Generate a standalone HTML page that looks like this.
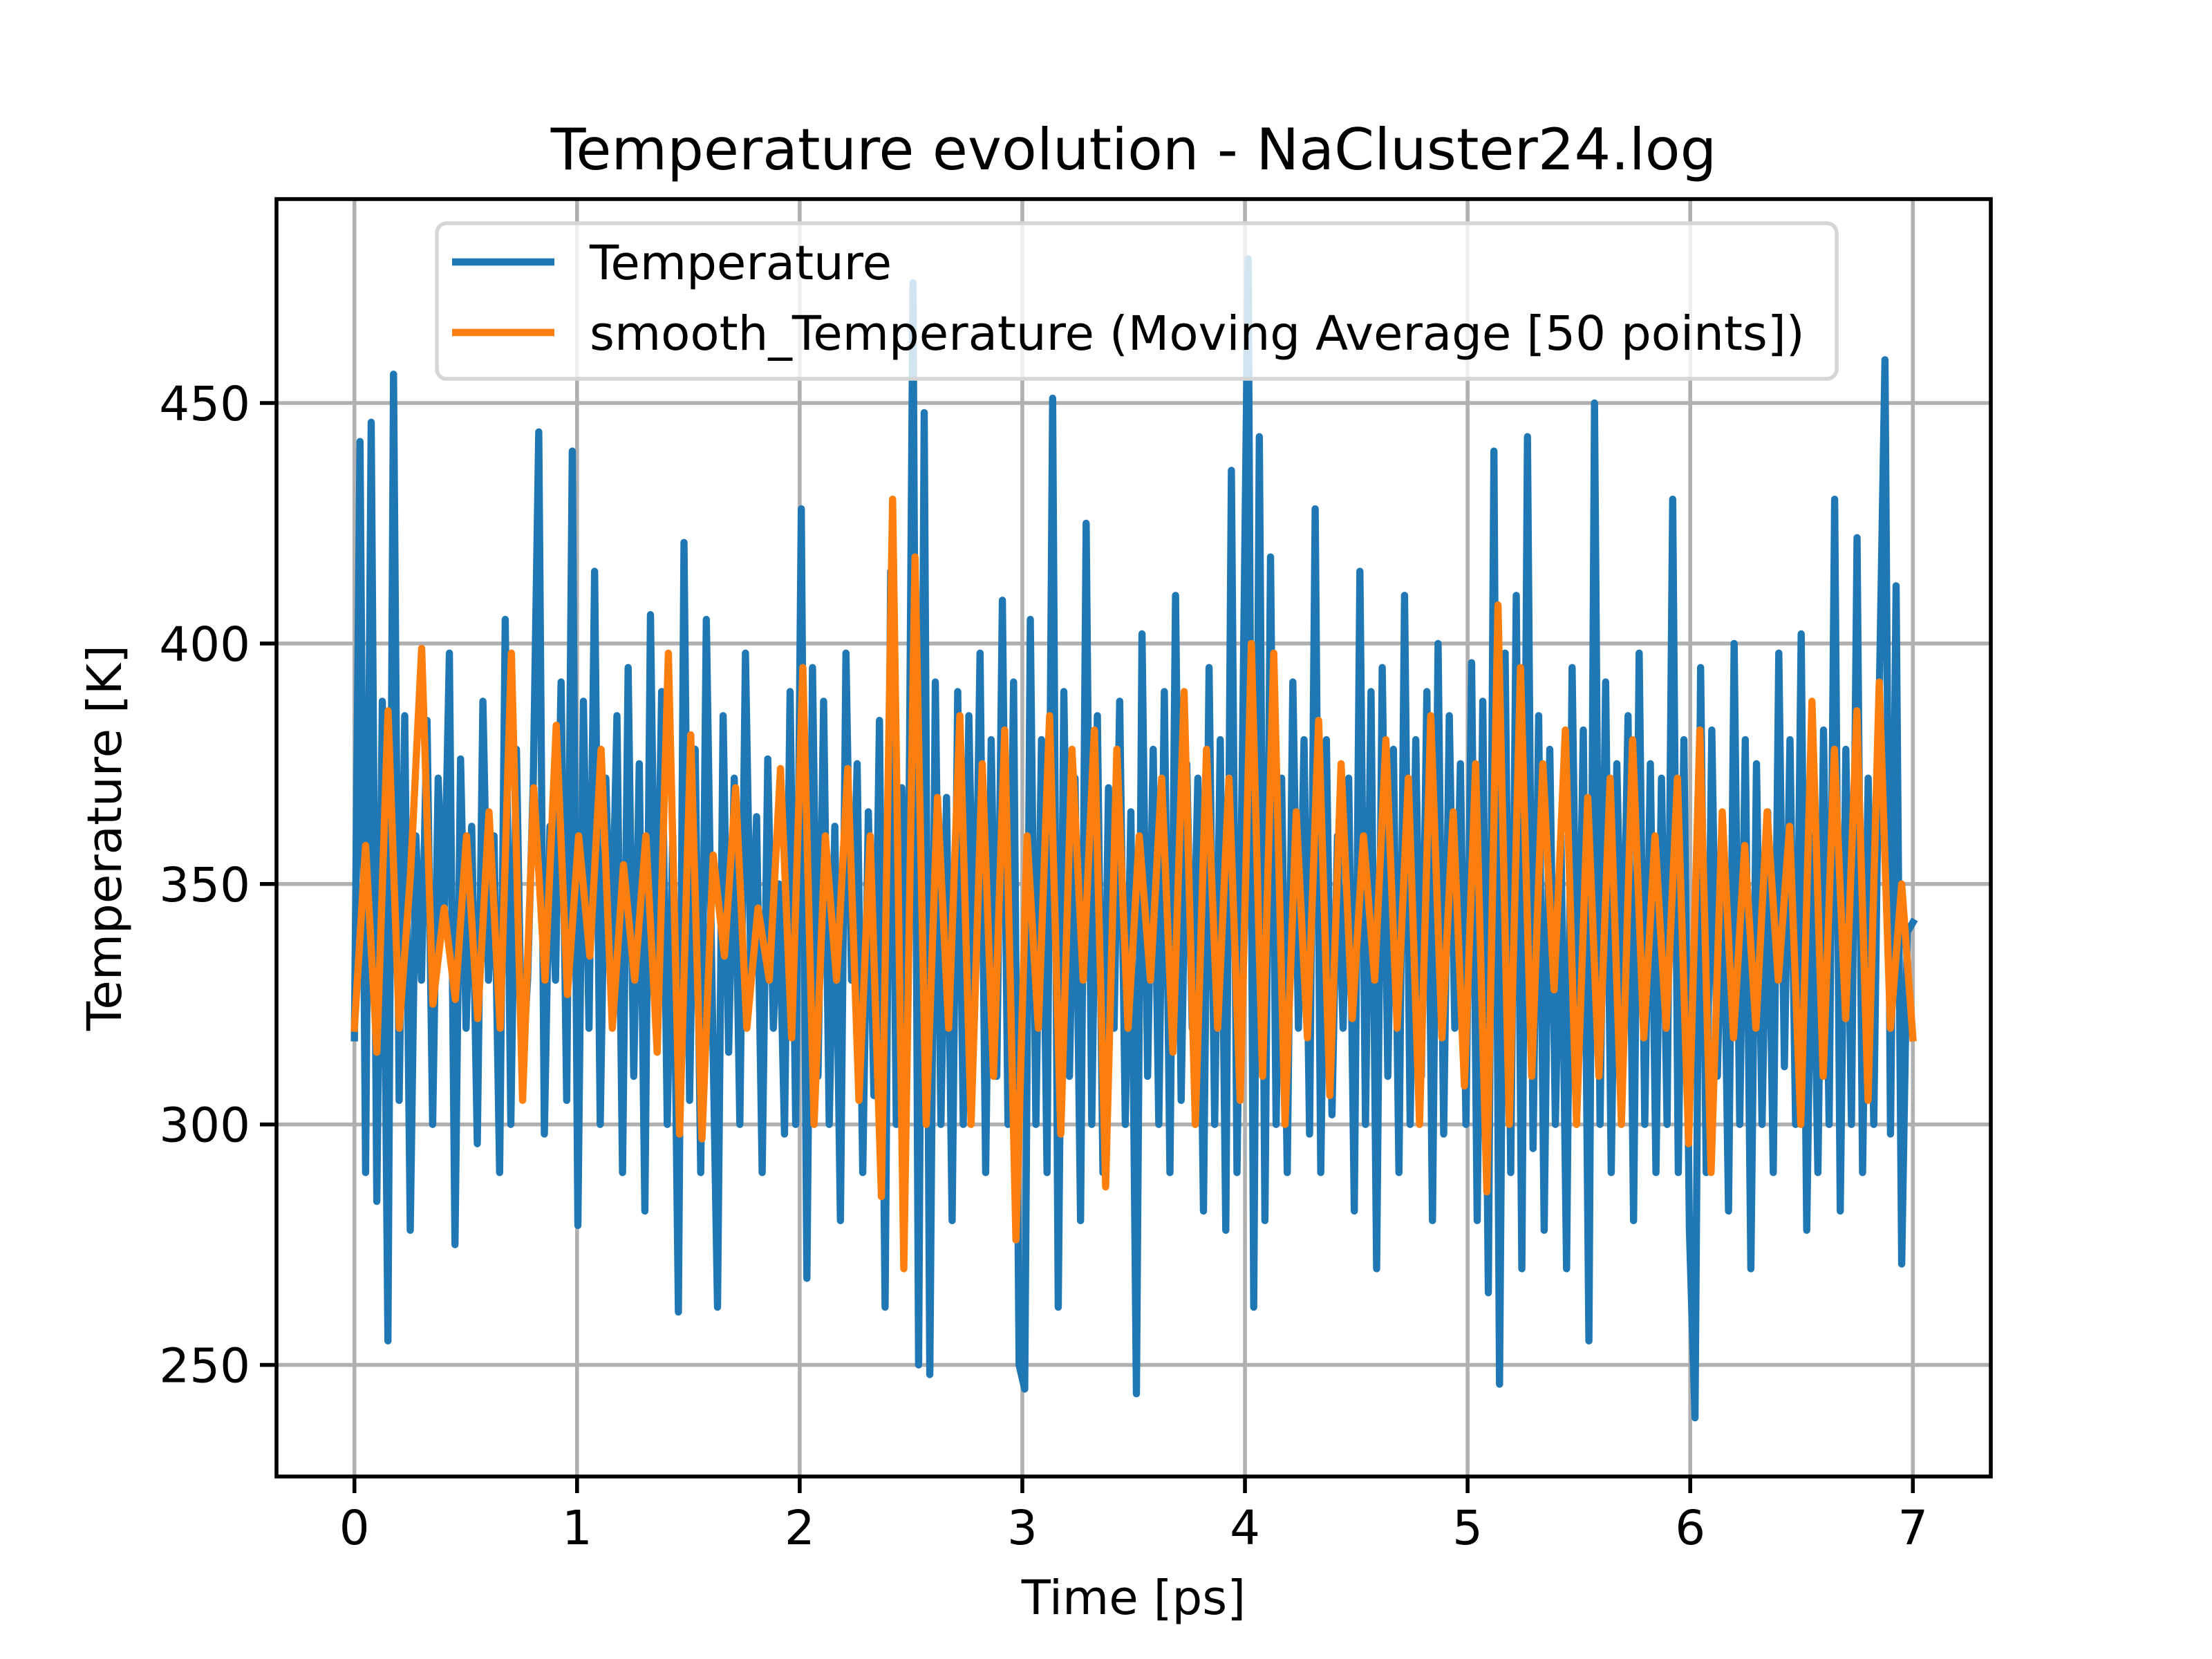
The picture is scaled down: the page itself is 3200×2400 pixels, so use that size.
<!DOCTYPE html>
<html><head><meta charset="utf-8"><style>
html,body{margin:0;padding:0;background:#fff}
svg{display:block}
text{font-family:"DejaVu Sans","Liberation Sans",sans-serif;fill:#000}
</style></head><body>
<svg id="chart" width="3200" height="2400" viewBox="0 0 3200 2400" xmlns="http://www.w3.org/2000/svg">
<rect width="3200" height="2400" fill="#fff"/>
<g id="grid"></g>
<g id="series"></g>
<rect x="400" y="288" width="2480" height="1848" fill="none" stroke="#000" stroke-width="5.6"/>
<g id="ticks"></g>
<text x="1640" y="245" font-size="83" text-anchor="middle">Temperature evolution - NaCluster24.log</text>
<text x="1640" y="2335" font-size="69" text-anchor="middle">Time [ps]</text>
<text x="0" y="0" font-size="69" text-anchor="middle" transform="translate(175,1212) rotate(-90)">Temperature [K]</text>
<g>
<rect x="632" y="323" width="2025" height="225" rx="14" fill="#fff" fill-opacity="0.8" stroke="#d6d6d6" stroke-width="5.6"/>
<line x1="654" y1="379" x2="802" y2="379" stroke="#1f77b4" stroke-width="10.4"/>
<text x="853" y="404" font-size="69">Temperature</text>
<line x1="654" y1="481" x2="802" y2="481" stroke="#ff7f0e" stroke-width="10.4"/>
<text x="853" y="506" font-size="69">smooth_Temperature (Moving Average [50 points])</text>
</g>
</svg>
<script>
const xTicks = [0,1,2,3,4,5,6,7];
const yTicks = [250,300,350,400,450];
const tStart = 0, tEnd = 7;
const temperature = [318,442,290,446,284,388,255,456,305,385,278,360,330,384,300,372,340,398,275,376,320,362,296,388,330,360,290,405,300,378,310,330,370,444,298,362,330,392,305,440,
279,388,320,415,300,372,330,385,290,395,310,375,282,406,320,390,300,360,261,421,305,378,290,405,330,262,385,315,372,300,398,330,364,290,376,320,350,298,390,300,
428,268,395,310,388,300,362,280,398,330,375,290,365,306,384,262,415,300,370,318,475,250,448,248,392,300,368,280,390,300,385,322,398,290,380,310,409,300,392,250,
245,405,300,380,290,451,262,390,310,372,280,425,300,385,290,370,320,388,300,365,244,402,310,378,300,390,290,410,305,375,320,372,282,395,300,380,278,436,290,380,
480,262,443,280,418,300,372,290,392,320,380,298,428,290,380,302,360,320,372,282,415,300,390,270,395,310,378,290,410,300,380,310,390,280,400,298,385,320,375,300,
396,280,388,265,440,246,398,290,410,270,443,295,385,278,378,300,360,270,395,310,382,255,450,300,392,290,375,320,385,280,398,300,375,290,372,300,430,290,380,278,
239,395,290,382,310,360,282,400,300,380,270,375,300,365,290,398,312,380,300,402,278,360,290,382,300,430,282,378,300,422,290,372,300,390,459,298,412,271,340,342];
const smoothTemperature = [320,358,315,386,320,352,399,325,345,326,360,322,365,320,398,305,370,330,383,327,
360,335,378,320,354,330,360,315,398,298,381,297,356,335,370,320,345,330,374,318,
395,300,360,330,374,305,360,285,430,270,418,300,368,320,385,300,375,310,382,276,
360,320,385,298,378,330,382,287,378,320,360,330,372,315,390,300,378,320,372,305,
400,310,398,300,365,318,384,306,375,322,360,330,380,320,372,300,385,318,365,308,
375,286,408,300,395,310,375,328,382,300,368,310,372,300,380,318,360,320,372,296,
382,290,365,318,358,320,365,330,362,300,388,310,378,322,386,305,392,320,350,318];

const NS='http://www.w3.org/2000/svg';
const L=400,R=2880,T=288,B=2136;
const xMin=-0.35,xMax=7.35,yMin=226.8,yMax=492.4;
function xs(v){return L+(v-xMin)/(xMax-xMin)*(R-L);}
function ys(v){return B-(v-yMin)/(yMax-yMin)*(B-T);}
function mk(tag,attrs,parent){const e=document.createElementNS(NS,tag);for(const k in attrs)e.setAttribute(k,attrs[k]);parent.appendChild(e);return e;}
const grid=document.getElementById('grid'),ticks=document.getElementById('ticks'),series=document.getElementById('series');
xTicks.forEach(t=>{
  const g=mk('line',{x1:xs(t),x2:xs(t),y1:T,y2:B,stroke:'#b0b0b0','stroke-width':5.6},grid);
  
  
  const tk=mk('line',{x1:xs(t),x2:xs(t),y1:B,y2:B+24,stroke:'#000','stroke-width':5.6},ticks);
  
  
  const lb=mk('text',{x:xs(t),y:B+98,'font-size':69,'text-anchor':'middle'},ticks);
  lb.textContent=t;
  
  
});
yTicks.forEach(t=>{
  const g=mk('line',{x1:L,x2:R,y1:ys(t),y2:ys(t),stroke:'#b0b0b0','stroke-width':5.6},grid);
  
  
  const tk=mk('line',{x1:L-24,x2:L,y1:ys(t),y2:ys(t),stroke:'#000','stroke-width':5.6},ticks);
  
  
  const lb=mk('text',{x:L-38,y:ys(t)+25,'font-size':69,'text-anchor':'end'},ticks);
  lb.textContent=t;
  
  
});
function pts(arr){const dt=(tEnd-tStart)/(arr.length-1);return arr.map((v,i)=>xs(tStart+i*dt).toFixed(1)+','+ys(v).toFixed(1)).join(' ');}
const p1=mk('polyline',{points:pts(temperature),fill:'none',stroke:'#1f77b4','stroke-width':10.4,'stroke-linejoin':'round','stroke-linecap':'square'},series);


const p2=mk('polyline',{points:pts(smoothTemperature),fill:'none',stroke:'#ff7f0e','stroke-width':10.4,'stroke-linejoin':'round','stroke-linecap':'square'},series);


</script>
</body></html>
